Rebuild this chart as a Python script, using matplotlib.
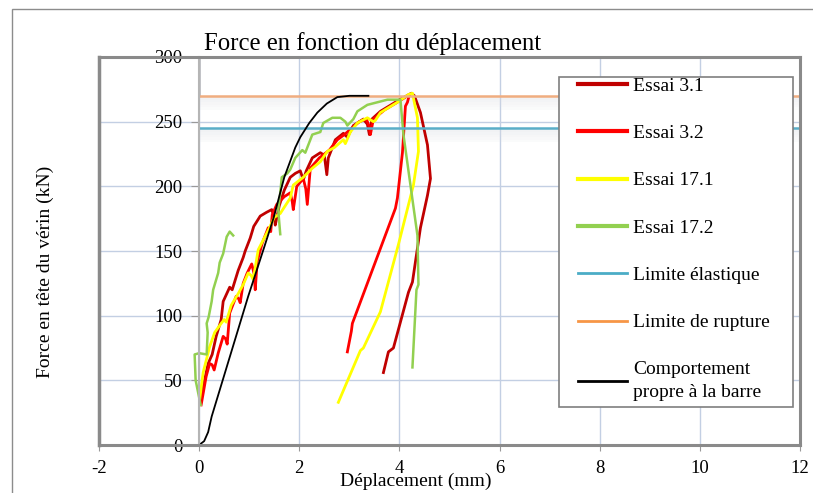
import numpy as np
import matplotlib
matplotlib.use("Agg")
import matplotlib.pyplot as plt
from matplotlib.lines import Line2D
from matplotlib.patches import Rectangle

plt.rcParams['font.family'] = ['Liberation Serif', 'DejaVu Serif']
plt.rcParams['axes.unicode_minus'] = False

# ---- data (mm, kN) ----
x_31 = [0.04, 0.08, 0.18, 0.26, 0.34, 0.44, 0.48, 0.61, 0.66, 0.78, 0.88, 0.92, 1.02, 1.09, 1.22,
        1.35, 1.45, 1.50, 1.52, 1.60, 1.70, 1.82, 1.92, 2.02, 2.08, 2.14, 2.26, 2.42, 2.50, 2.55,
        2.58, 2.72, 2.88, 2.96, 3.08, 3.28, 3.36, 3.40, 3.45, 3.62, 3.96, 4.24, 4.30, 4.42, 4.56,
        4.62, 4.56, 4.42, 4.26, 4.18, 3.88, 3.78, 3.68]
y_31 = [36, 45, 63, 70, 84, 97, 111, 122, 120, 135, 145, 150, 160, 169, 177,
        180, 182, 176, 170, 185, 197, 207, 210, 212, 205, 212, 222, 226, 224, 209,
        222, 236, 241, 238, 247, 252, 248, 240, 252, 258, 266, 272, 270, 257, 232,
        206, 193, 168, 126, 118, 75, 72, 56]

x_32 = [0.04, 0.14, 0.21, 0.26, 0.30, 0.38, 0.48, 0.53, 0.56, 0.61, 0.74, 0.79, 0.82, 0.88, 0.96,
        1.05, 1.10, 1.12, 1.16, 1.26, 1.38, 1.43, 1.46, 1.55, 1.70, 1.82, 1.86, 1.88, 1.95, 2.08,
        2.13, 2.16, 2.22, 2.40, 2.60, 2.76, 2.90, 3.05, 3.20, 3.34, 3.40, 3.42, 3.48, 3.70, 4.00,
        4.20, 4.16, 4.12, 4.06, 3.96, 3.92, 3.06, 3.04, 2.96]
y_32 = [31, 53, 63, 62, 58, 71, 84, 82, 78, 102, 115, 113, 110, 125, 133,
        140, 132, 120, 142, 156, 168, 165, 178, 186, 192, 195, 188, 182, 200, 206,
        198, 186, 214, 222, 228, 236, 240, 245, 250, 252, 246, 240, 252, 259, 266,
        271, 265, 262, 226, 191, 183, 94, 88, 72]

x_171 = [0.01, 0.08, 0.21, 0.31, 0.44, 0.50, 0.54, 0.64, 0.78, 0.88, 0.98, 1.04, 1.08, 1.18, 1.38,
         1.50, 1.62, 1.82, 1.88, 2.08, 2.26, 2.42, 2.56, 2.70, 2.82, 2.88, 2.92, 3.02, 3.16, 3.36,
         3.48, 3.52, 3.62, 3.96, 4.18, 4.26, 4.36, 4.38, 4.28, 3.98, 3.62, 3.28, 3.22, 2.78]
y_171 = [35, 56, 76, 87, 94, 97, 95, 108, 117, 124, 133, 131, 128, 151, 166,
         176, 179, 191, 201, 207, 214, 219, 227, 230, 234, 236, 233, 242, 249, 253,
         250, 251, 257, 265, 271, 272, 253, 227, 201, 155, 103, 75, 73, 33]

# two recorded pieces, gap between them
x_172 = [0.03, -0.07, -0.09, 0.00, 0.15, 0.17, 0.15, 0.19, 0.25, 0.28, 0.38, 0.41, 0.48, 0.55, 0.61,
         0.68, np.nan,
         1.62, 1.60, 1.58, 1.62, 1.65, 1.76, 1.82, 1.92, 2.06, 2.12, 2.26, 2.42, 2.48, 2.66,
         2.82, 2.92, 2.96, 3.08, 3.16, 3.36, 3.76, 4.02, 4.08, 4.22, 4.36, 4.38, 4.34, 4.26]
y_172 = [31, 50, 70, 71, 70, 87, 94, 99, 111, 120, 133, 141, 148, 161, 165,
         162, np.nan,
         163, 172, 182, 195, 207, 210, 213, 222, 228, 226, 240, 242, 249, 253,
         253, 250, 247, 252, 258, 263, 267, 267, 240, 201, 162, 124, 120, 60]

x_barre = [-2, -0.2, 0, 0.1, 0.18, 0.25, 0.98, 1.09, 1.3, 1.49, 1.7, 1.92, 2.02, 2.2, 2.36,
           2.55, 2.76, 3.0, 3.38]
y_barre = [0, 0, 0, 3, 10, 22, 115, 128, 153, 176, 207, 230, 238, 249, 257,
           264, 269, 270, 270]

lim_elastique = 245
lim_rupture = 270
lim_x = [0, 12]

labels = ["Essai 3.1", "Essai 3.2", "Essai 17.1", "Essai 17.2",
          "Limite élastique", "Limite de rupture", "Comportement\npropre à la barre"]
colors = ["#C00000", "#FF0000", "#FFFF00", "#92D050", "#4BACC6", "#F79646", "#000000"]

# ---- figure ----
fig = plt.figure(figsize=(8.13, 4.93), dpi=100)
ax = fig.add_axes([99/813, 1-445/493, (800-99)/813, (445-57)/493])
ax.set_xlim(-2, 12)
ax.set_ylim(0, 300)
ax.set_xticks(range(-2, 13, 2))
ax.set_yticks(range(0, 301, 50))
ax.grid(True, color='#c3cfe3', lw=1)
ax.set_axisbelow(True)

ax.spines['left'].set_position(('data', 0))
ax.spines['left'].set_color('#b5b5b5')
ax.spines['left'].set_linewidth(1.5)
for s in ['top', 'right', 'bottom']:
    ax.spines[s].set_color('#8a8a8a')
    ax.spines[s].set_linewidth(2.2)
ax.axvline(-2, color='#8a8a8a', lw=2.5, clip_on=False)
ax.axvline(0, ymin=0.9, ymax=1, color='black', lw=1)

ax.tick_params(axis='y', length=6, color='#999999', pad=6, labelsize=13.5)
ax.tick_params(axis='x', length=4, color='#999999', pad=7, labelsize=13.5)

# soft shadows under the limit lines
for lim in [lim_elastique, lim_rupture]:
    for k in range(5):
        ax.fill_between(lim_x, lim - 1 - 2*(k+1), lim - 1 - 2*k, color='#d9dbe0',
                        alpha=0.35 - 0.06*k, lw=0)

ax.plot(x_31, y_31, color=colors[0], lw=2.0)
ax.plot(x_32, y_32, color=colors[1], lw=2.0)
ax.plot(x_171, y_171, color=colors[2], lw=2.0)
ax.plot(x_172, y_172, color=colors[3], lw=1.8)
ax.hlines(lim_elastique, lim_x[0], lim_x[1], color='#5aaec8', lw=1.8)
ax.hlines(lim_rupture, lim_x[0], lim_x[1], color='#f0ad80', lw=1.8)
ax.plot(x_barre, y_barre, color=colors[6], lw=1.3)

# ---- texts ----
fig.text(373/813, 1-44/493, "Force en fonction du déplacement", ha='center', va='center', fontsize=17.8)
fig.text(416/813, 1-481/493, "Déplacement (mm)", ha='center', va='center', fontsize=14)
fig.text(45/813, 1-272/493, "Force en tête du vérin (kN)", ha='center', va='center',
         rotation=90, fontsize=14)

# ---- legend ----
box = Rectangle((559/813, 1-407/493), (793-559)/813, (407-77)/493, transform=fig.transFigure,
                facecolor='white', edgecolor='#7f7f7f', lw=1.2, zorder=5)
fig.patches.append(box)
widths = [3, 3, 3, 3, 2, 2, 2]
handles = [Line2D([], [], color=c, lw=w) for c, w in zip(colors, widths)]
leg = fig.legend(handles, labels, loc='upper left', bbox_to_anchor=(578/813, 1-77/493),
                 bbox_transform=fig.transFigure, frameon=False, borderpad=0, borderaxespad=0,
                 handlelength=2.52, handletextpad=0.3, labelspacing=1.53, fontsize=14)
for t in leg.get_texts():
    t.set_linespacing(1.45)
leg.set_zorder(10)

# outer border
fig.patches.append(Rectangle((12/813, -0.1), 1.2, 1.1-9.5/493, transform=fig.transFigure,
                             fill=False, edgecolor='#8c8c8c', lw=1))

fig.savefig("out.png", dpi=100)
